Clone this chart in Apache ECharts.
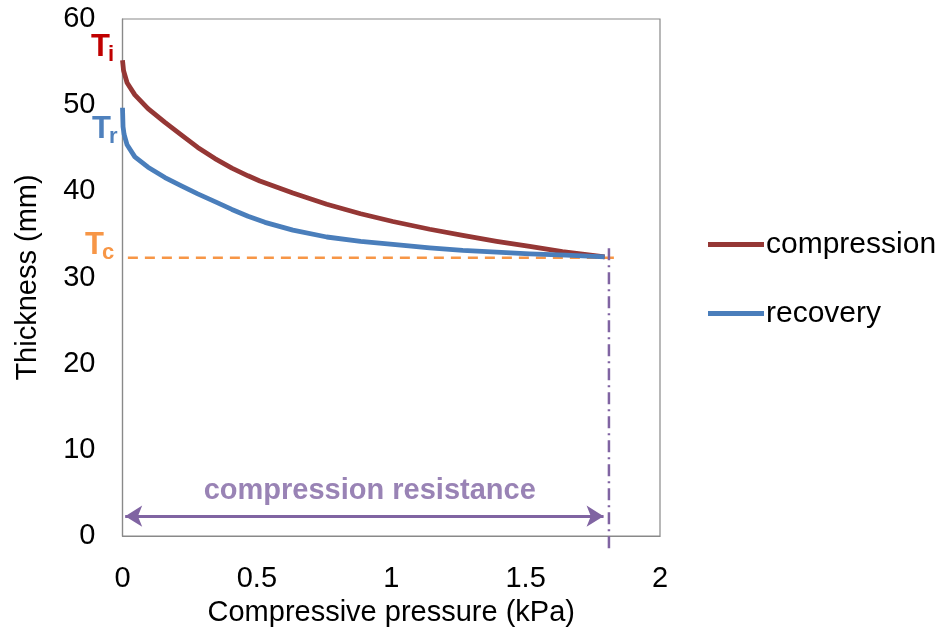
<!DOCTYPE html>
<html>
<head>
<meta charset="utf-8">
<script src="https://cdn.jsdelivr.net/npm/echarts@6/dist/echarts.min.js"></script>
<style>
html,body{margin:0;padding:0;background:#fff;}
#chart{width:948px;height:634px;}
</style>
</head>
<body>
<div id="chart"></div>
<script>
// ---- data ----
var xTicks = [0, 0.5, 1, 1.5, 2];
var yTicks = [0, 10, 20, 30, 40, 50, 60];

var compressionPressure = [0, 0.004, 0.017, 0.046, 0.095, 0.158, 0.221, 0.28, 0.344, 0.407, 0.467, 0.511, 0.634, 0.76, 0.886, 1.006, 1.143, 1.266, 1.392, 1.515, 1.637, 1.764, 1.794];
var compressionThickness = [55.2, 54.0, 52.6, 51.2, 49.6, 48.0, 46.5, 45.1, 43.8, 42.7, 41.8, 41.2, 39.8, 38.5, 37.4, 36.5, 35.6, 34.9, 34.2, 33.6, 33.0, 32.5, 32.4];

var recoveryPressure = [0, 0.002, 0.006, 0.017, 0.046, 0.095, 0.158, 0.221, 0.28, 0.344, 0.407, 0.467, 0.53, 0.634, 0.76, 0.886, 1.006, 1.143, 1.266, 1.392, 1.515, 1.65, 1.794];
var recoveryThickness = [49.7, 47.5, 46.6, 45.4, 44.0, 42.8, 41.6, 40.6, 39.7, 38.8, 37.9, 37.1, 36.4, 35.5, 34.7, 34.2, 33.85, 33.45, 33.15, 32.95, 32.75, 32.6, 32.4];

var compressedThickness = 32.3;          // Tc level
var tcLineRange = [0.02, 1.85];
var limitPressure = 1.81;                // end of compression
var limitLineRange = [33.4, -1.7];
var arrowRange = [0.01, 1.79];
var arrowLevel = 2.3;
var resistanceLabelPos = [0.92, 5.2];

// ---- build ----
function pairs(xs, ys) { return xs.map(function (x, i) { return [x, ys[i]]; }); }

var FONT = "'Liberation Sans', Arial, sans-serif";
var chart = echarts.init(document.getElementById('chart'));

var option = {
  animation: false,
  backgroundColor: '#fff',
  textStyle: { fontFamily: FONT },
  grid: { left: 122.5, right: 288, top: 19, bottom: 98, show: true, borderColor: '#898989', borderWidth: 1.2, containLabel: false },
  legend: {
    orient: 'vertical', left: 703, top: 224, itemWidth: 56, itemHeight: 5, itemGap: 38,
    icon: 'rect',
    textStyle: { fontSize: 30, lineHeight: 31, color: '#000', fontFamily: FONT, padding: [0, 0, 0, -3] },
    data: ['compression', 'recovery']
  },
  xAxis: {
    type: 'value', min: 0, max: 2, interval: 0.5,
    name: 'Compressive pressure (kPa)', nameLocation: 'middle', nameGap: 62,
    nameTextStyle: { fontSize: 29, color: '#000', fontFamily: FONT },
    axisLine: { show: true, lineStyle: { color: '#898989', width: 1.2 } },
    axisTick: { show: false },
    splitLine: { show: false },
    axisLabel: { fontSize: 29, color: '#000', margin: 28, fontFamily: FONT,
      formatter: function (v) { return xTicks.indexOf(v) >= 0 ? String(v) : ''; } }
  },
  yAxis: {
    type: 'value', min: 0, max: 60, interval: 10,
    name: 'Thickness (mm)', nameLocation: 'middle', nameGap: 80, nameRotate: 90,
    nameTextStyle: { fontSize: 29, color: '#000', fontFamily: FONT },
    axisLine: { show: true, lineStyle: { color: '#898989', width: 1.2 } },
    axisTick: { show: false },
    splitLine: { show: false },
    axisLabel: { fontSize: 29, color: '#000', margin: 27, fontFamily: FONT,
      formatter: function (v) { return yTicks.indexOf(v) >= 0 ? String(v) : ''; } }
  },
  series: [
    {
      name: 'Tc line', type: 'line', symbol: 'none', silent: true, clip: false, z: 1,
      data: [[tcLineRange[0], compressedThickness], [tcLineRange[1], compressedThickness]],
      lineStyle: { color: '#F79646', width: 2.5, type: [10, 7] }
    },
    {
      name: 'limit line', type: 'line', symbol: 'none', silent: true, clip: false, z: 1,
      data: [[limitPressure, limitLineRange[0]], [limitPressure, limitLineRange[1]]],
      lineStyle: { color: '#8064A2', width: 2.5, type: [12, 5, 2, 5] }
    },
    {
      name: 'compression', type: 'line', symbol: 'none', z: 3,
      data: pairs(compressionPressure, compressionThickness),
      lineStyle: { color: '#953735', width: 4.8, join: 'round' },
      itemStyle: { color: '#953735' }
    },
    {
      name: 'recovery', type: 'line', symbol: 'none', z: 4,
      data: pairs(recoveryPressure, recoveryThickness),
      lineStyle: { color: '#4A7EBB', width: 4.8, join: 'round' },
      itemStyle: { color: '#4A7EBB' }
    },
    {
      name: 'arrow', type: 'line', symbol: 'none', data: [], silent: true,
      markLine: {
        silent: true, symbol: ['arrow', 'arrow'], symbolSize: [16, 17],
        label: { show: false },
        lineStyle: { color: '#8064A2', width: 3, type: 'solid' },
        data: [[{ coord: [arrowRange[0], arrowLevel] }, { coord: [arrowRange[1], arrowLevel] }]]
      }
    },
    {
      name: 'label', type: 'scatter', symbolSize: 0, silent: true,
      data: [resistanceLabelPos],
      label: { show: true, position: 'inside', formatter: 'compression resistance',
        color: '#8064A2', fontSize: 29, fontWeight: 'bold', fontFamily: FONT }
    }
  ],
  graphic: [
    { type: 'text', left: 91, top: 32, style: { text: 'T', fill: '#C00000', font: 'bold 31px ' + FONT } },
    { type: 'text', left: 108, top: 44, style: { text: 'i', fill: '#C00000', font: 'bold 22px ' + FONT } },
    { type: 'text', left: 92, top: 114, style: { text: 'T', fill: '#4F81BD', font: 'bold 31px ' + FONT } },
    { type: 'text', left: 109, top: 126, style: { text: 'r', fill: '#4F81BD', font: 'bold 22px ' + FONT } },
    { type: 'text', left: 85, top: 230, style: { text: 'T', fill: '#F79646', font: 'bold 31px ' + FONT } },
    { type: 'text', left: 102, top: 242, style: { text: 'c', fill: '#F79646', font: 'bold 22px ' + FONT } }
  ]
};
chart.setOption(option);
</script>
</body>
</html>
